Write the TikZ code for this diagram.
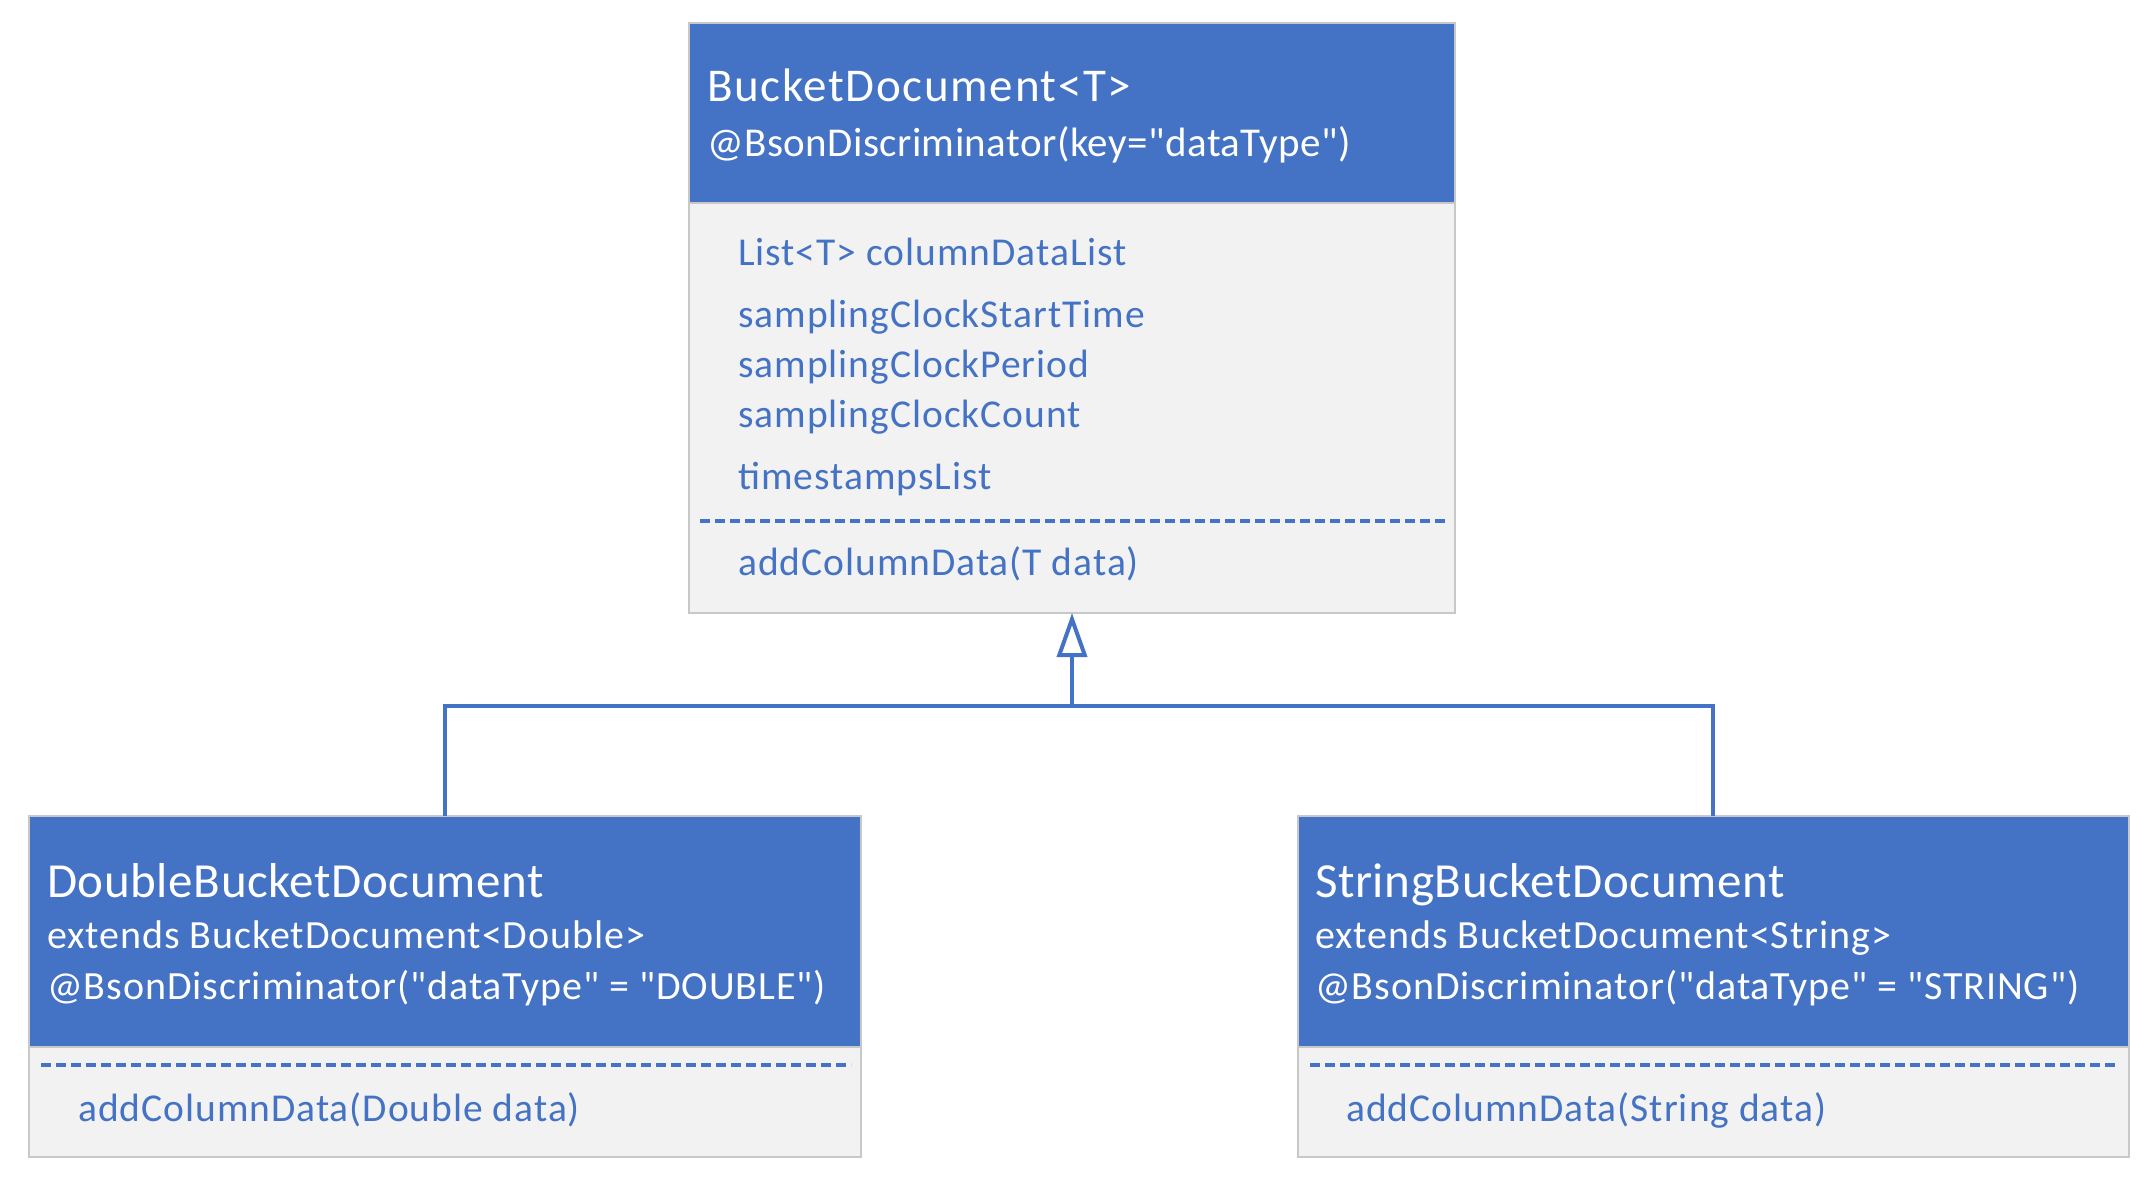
\documentclass[tikz,border=0pt]{standalone}
\usepackage{fontspec}
\setmainfont{Carlito}[Ligatures=TeXOff]
\usetikzlibrary{arrows.meta}
\definecolor{hdr}{HTML}{4472C4}
\definecolor{bodyfill}{HTML}{F2F2F2}
\definecolor{bord}{HTML}{C8C8C8}
\newcommand{\fsz}[3]{\fontsize{#1}{#2}\selectfont\addfontfeature{LetterSpace=#3}}
\tikzset{
  hdrbox/.style={fill=hdr, draw=bord, line width=1.5pt},
  bodybox/.style={fill=bodyfill, draw=bord, line width=1.5pt},
  ttl/.style={inner sep=0pt, anchor=base west, text=white, font=\fsz{47}{50}{3.5}},
  sub/.style={inner sep=0pt, anchor=base west, text=white, font=\fsz{41}{44}{1.1}},
  ctl/.style={inner sep=0pt, anchor=base west, text=white, font=\fsz{49}{52}{1.2}},
  csub/.style={inner sep=0pt, anchor=base west, text=white, font=\fsz{40}{44}{2.3}},
  attr/.style={inner sep=0pt, anchor=base west, text=hdr, font=\fsz{39.5}{43}{2.5}},
  sep/.style={draw=hdr, line width=3.5pt, dash pattern=on 10pt off 5pt},
  conn/.style={draw=hdr, line width=4pt},
  inherit/.style={-{Triangle[open, length=44pt, width=30pt, line width=4pt]}}
}
\begin{document}
\begin{tikzpicture}[x=1pt, y=-1pt]
\useasboundingbox (0,0) rectangle (2151,1180);
% top class
\path[bodybox] (689,23) rectangle (1455,613);
\path[hdrbox] (689,23) rectangle (1455,203);
\node[ttl] (t1) at (707,102) {BucketDocument<T>};
\node[sub] (t2) at (707,157) {@BsonDiscriminator(key="dataType")};
\node[attr] (a1) at (738,265) {List<T> columnDataList};
\node[attr] (a2) at (738,327) {samplingClockStartTime};
\node[attr] (a3) at (738,377) {samplingClockPeriod};
\node[attr] (a4) at (738,427) {samplingClockCount};
\node[attr] (a5) at (738,489) {timestampsList};
\coordinate (s1a) at (700,521);
\coordinate (s1b) at (1445,521);
\draw[sep] (s1a) -- (s1b);
\node[attr] (m1) at (738,575) {addColumnData(T data)};
\coordinate (topb) at (1072,613);
% left class
\path[bodybox] (29,816) rectangle (861,1157);
\path[hdrbox] (29,816) rectangle (861,1047);
\node[ctl] (l1) at (47,897) {DoubleBucketDocument};
\node[csub] (l2) at (47,948) {extends BucketDocument<Double>};
\node[csub] (l3) at (47,999) {@BsonDiscriminator("dataType" = "DOUBLE")};
\coordinate (s2a) at (41,1065);
\coordinate (s2b) at (851,1065);
\draw[sep] (s2a) -- (s2b);
\node[attr] (m2) at (78,1121) {addColumnData(Double data)};
\coordinate (lt) at (445,816);
% right class
\path[bodybox] (1298,816) rectangle (2129,1157);
\path[hdrbox] (1298,816) rectangle (2129,1047);
\node[ctl] (r1) at (1315,897) {StringBucketDocument};
\node[csub] (r2) at (1315,948) {extends BucketDocument<String>};
\node[csub] (r3) at (1315,999) {@BsonDiscriminator("dataType" = "STRING")};
\coordinate (s3a) at (1310,1065);
\coordinate (s3b) at (2117,1065);
\draw[sep] (s3a) -- (s3b);
\node[attr] (m3) at (1346,1121) {addColumnData(String data)};
\coordinate (rt) at (1713,816);
% connectors
\coordinate (jn) at (1072,706);
\draw[conn] (lt) |- (jn) -| (rt);
\draw[conn, inherit] (jn) -- (topb);
\end{tikzpicture}
\end{document}
